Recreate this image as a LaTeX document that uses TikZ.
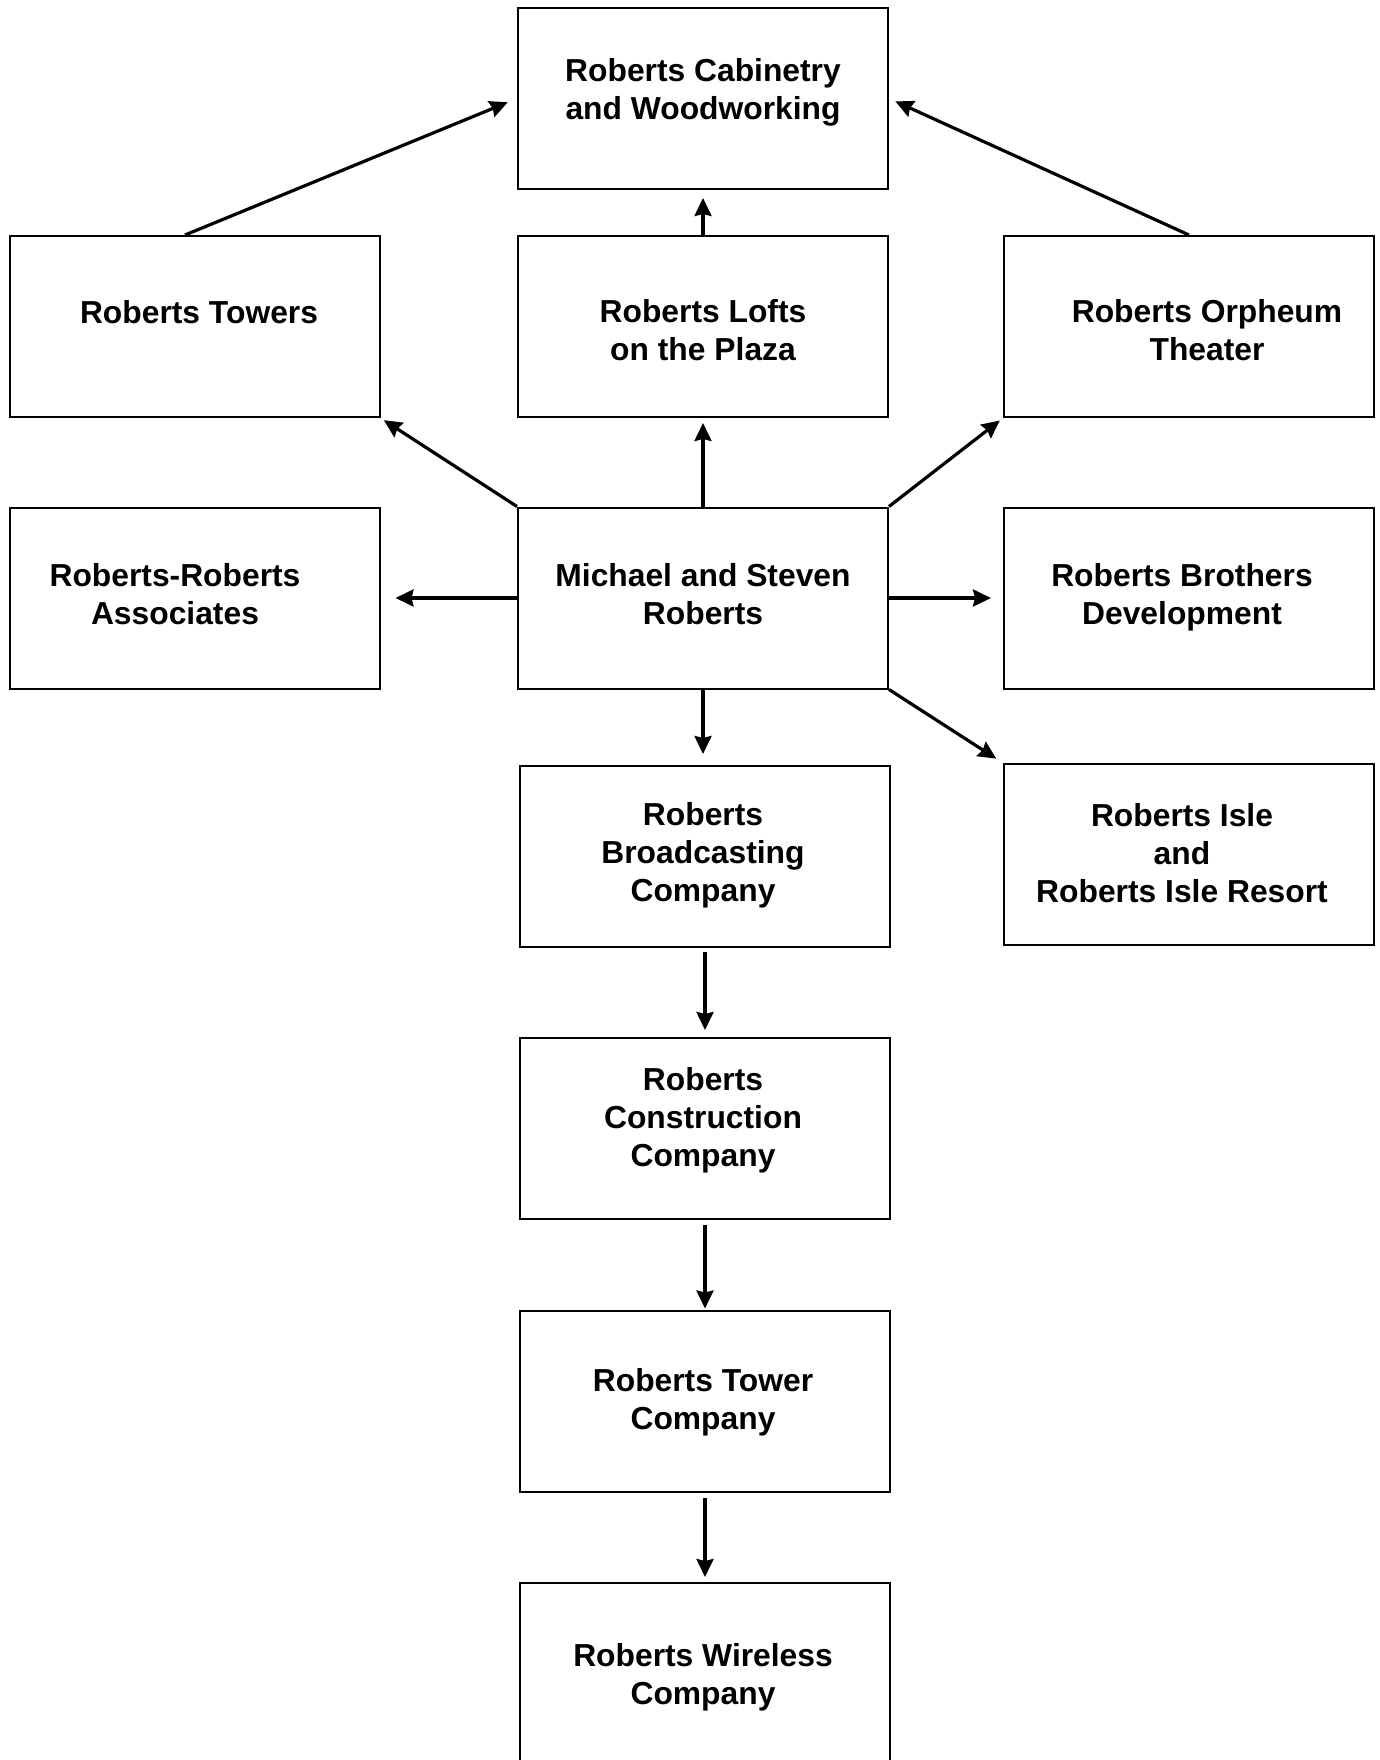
\documentclass[tikz,border=0pt]{standalone}
\usepackage{fontspec}
\setmainfont{Liberation Sans}
\usetikzlibrary{arrows.meta}
\begin{document}
\begin{tikzpicture}[x=0.5pt,y=-0.5pt,
  box/.style={draw=black, line width=1pt, minimum width=185pt, minimum height=90.5pt, inner sep=0pt},
  lbl/.style={align=center, font=\fontsize{15.9}{19.1}\selectfont\bfseries, inner sep=0pt},
  arr/.style={line width=1.6pt, -{Stealth[length=9pt,width=8.5pt,inset=1pt]}}]
\fill[white] (0,0) rectangle (1380,1760);
\useasboundingbox (0,0) rectangle (1380,1760);
% boxes
\node[box] (cab) at (703,98.5) {};
\node[box] (tow) at (194.5,326.5) {};
\node[box] (lof) at (703,326.5) {};
\node[box] (orp) at (1189,326.5) {};
\node[box] (rr) at (194.5,598) {};
\node[box] (ms) at (703,598) {};
\node[box] (bro) at (1189,598) {};
\node[box] (bc) at (705,856.5) {};
\node[box] (isle) at (1189,854.5) {};
\node[box] (con) at (705,1128.5) {};
\node[box] (tc) at (705,1401) {};
\node[box] (wir) at (705,1673.5) {};
% labels
\node[lbl] (cab-t) at (703,92) {Roberts Cabinetry\\and Woodworking};
\node[lbl] (tow-t) at (199,312) {Roberts Towers};
\node[lbl] (lof-t) at (703,330) {Roberts Lofts\\on the Plaza};
\node[lbl] (orp-t) at (1207,330) {Roberts Orpheum\\Theater};
\node[lbl] (rr-t) at (175,594) {Roberts-Roberts\\Associates};
\node[lbl] (ms-t) at (703,594) {Michael and Steven\\Roberts};
\node[lbl] (bro-t) at (1182,597) {Roberts Brothers\\Development};
\node[lbl] (bc-t) at (703,855) {Roberts\\Broadcasting\\Company};
\node[lbl] (isle-t) at (1182,853) {Roberts Isle\\and\\Roberts Isle Resort};
\node[lbl] (con-t) at (703,1120) {Roberts\\Construction\\Company};
\node[lbl] (tc-t) at (703,1402) {Roberts Tower\\Company};
\node[lbl] (wir-t) at (703,1677) {Roberts Wireless\\Company};
% connectors
\draw[arr, shorten >=5pt] ([xshift=-4.75pt]tow.north) -- (cab.west);
\draw[arr, shorten >=3.5pt] (orp.north) -- (cab.east);
\draw[arr, shorten >=4pt] (lof.north) -- (cab.south);
\draw[arr, shorten >=2pt] (ms.north west) -- (tow.south east);
\draw[arr, shorten >=2.5pt] (ms.north) -- (lof.south);
\draw[arr, shorten >=2pt] (ms.north east) -- (orp.south west);
\draw[arr, shorten >=7.5pt] (ms.west) -- (rr.east);
\draw[arr, shorten >=6pt] (ms.east) -- (bro.west);
\draw[arr, shorten >=5.5pt] (ms.south) -- (ms.south |- bc.north);
\draw[arr, shorten >=4pt] (ms.south east) -- (isle.north west);
\draw[arr, shorten <=2pt, shorten >=3.5pt] (bc.south) -- (con.north);
\draw[arr, shorten <=2.5pt, shorten >=0.5pt] (con.south) -- (tc.north);
\draw[arr, shorten <=2.5pt, shorten >=2.5pt] (tc.south) -- (wir.north);
\end{tikzpicture}
\end{document}
